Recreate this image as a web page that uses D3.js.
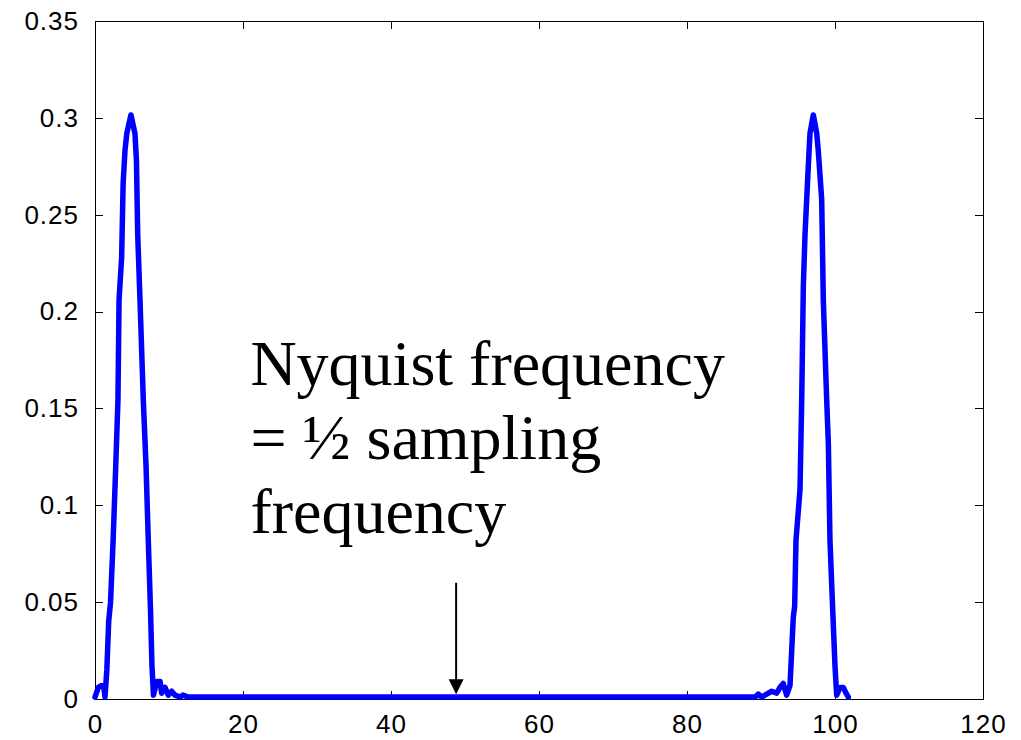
<!DOCTYPE html>
<html>
<head>
<meta charset="utf-8">
<script src="https://cdn.jsdelivr.net/npm/d3@7"></script>
<style>
  html, body { margin: 0; padding: 0; background: #fff; }
  svg { display: block; }
</style>
</head>
<body>
<svg id="chart" width="1021" height="740"></svg>
<script>
// ---- data ----
const freqX = [0, 0.45, 0.9, 1.2, 1.35, 1.6, 1.85, 2.1, 2.45, 2.8, 3.1, 3.25, 3.6, 3.8, 4.05, 4.3, 4.86,
  5.4, 5.6, 5.77, 6.08, 6.53, 6.9, 7.2, 7.5, 7.7, 7.9, 8.35, 8.8, 9.0, 9.46, 9.9, 10.36, 10.8, 11.5, 11.9, 12.6,
  89.19, 89.64, 90.09, 90.77, 91.45, 92.12, 92.57, 93.01, 93.47, 93.92, 94.15, 94.36, 94.55, 94.73, 95.27, 95.5,
  95.72, 95.95, 96.39, 96.62, 97.07, 97.53, 97.74, 98.2, 98.42, 98.88, 99.1, 99.32, 99.69, 100.0, 100.23,
  100.68, 101.12, 101.49, 101.8];
const magnitude = [0.001, 0.006, 0.007, 0.006, 0.001, 0.015, 0.04, 0.05, 0.082, 0.12, 0.154, 0.206, 0.228, 0.266, 0.283, 0.292, 0.3015,
  0.292, 0.278, 0.24, 0.206, 0.154, 0.12, 0.082, 0.046, 0.017, 0.002, 0.009, 0.009, 0.003, 0.006, 0.002, 0.004, 0.002, 0.001, 0.002, 0.001,
  0.001, 0.0025, 0.001, 0.0025, 0.004, 0.003, 0.006, 0.008, 0.002, 0.007, 0.025, 0.042, 0.048, 0.082, 0.108, 0.154,
  0.213, 0.24, 0.275, 0.292, 0.3015, 0.292, 0.283, 0.258, 0.206, 0.154, 0.132, 0.082, 0.046, 0.017, 0.002,
  0.006, 0.006, 0.003, 0.001];
const xTicks = [0, 20, 40, 60, 80, 100, 120];
const yTicks = [0, 0.05, 0.1, 0.15, 0.2, 0.25, 0.3, 0.35];
const yTickLabels = ["0", "0.05", "0.1", "0.15", "0.2", "0.25", "0.3", "0.35"];
const annotationLines = ["Nyquist frequency", "= \u00BD sampling", "frequency"];
const arrowX = 48.8, arrowFrom = 0.06, arrowTo = 0.0025;
const annotX = 21, annotY = 0.162;

// ---- layout ----
const svg = d3.select("#chart");
const mLeft = 95, mRight = 983, mTop = 21, mBottom = 699;
const x = d3.scaleLinear().domain([0, 120]).range([mLeft, mRight]);
const y = d3.scaleLinear().domain([0, 0.35]).range([mBottom, mTop]);
const tickLen = 8;
const tickFont = "'Liberation Sans', Arial, Helvetica, sans-serif";

// box
svg.append("rect").attr("x", mLeft).attr("y", mTop).attr("width", mRight - mLeft).attr("height", mBottom - mTop)
  .attr("fill", "none").attr("stroke", "#000").attr("stroke-width", 1).attr("shape-rendering", "crispEdges");

// axes (ticks inward)
const xAxisB = d3.axisBottom(x).tickValues(xTicks).tickSizeInner(-tickLen).tickSizeOuter(0).tickPadding(tickLen + 8).tickFormat(d3.format("d"));
const gx = svg.append("g").attr("transform", `translate(0,${mBottom})`).call(xAxisB);
gx.select(".domain").remove();
gx.selectAll("text").attr("font-family", tickFont).attr("font-size", 26).attr("fill", "#000").attr("letter-spacing", 1);

const xAxisT = d3.axisTop(x).tickValues(xTicks).tickSizeInner(-tickLen).tickSizeOuter(0).tickFormat("");
const gxt = svg.append("g").attr("transform", `translate(0,${mTop})`).call(xAxisT);
gxt.select(".domain").remove();

const yAxisL = d3.axisLeft(y).tickValues(yTicks).tickSizeInner(-tickLen).tickSizeOuter(0).tickPadding(tickLen + 8)
  .tickFormat((d, i) => yTickLabels[i]);
const gy = svg.append("g").attr("transform", `translate(${mLeft},0)`).call(yAxisL);
gy.select(".domain").remove();
gy.selectAll("text").attr("font-family", tickFont).attr("font-size", 26).attr("fill", "#000").attr("letter-spacing", 1);

const yAxisR = d3.axisRight(y).tickValues(yTicks).tickSizeInner(-tickLen).tickSizeOuter(0).tickFormat("");
const gyr = svg.append("g").attr("transform", `translate(${mRight},0)`).call(yAxisR);
gyr.select(".domain").remove();

svg.selectAll(".tick line").attr("stroke", "#000").attr("stroke-width", 1).attr("shape-rendering", "crispEdges");

// spectrum line
const pts = freqX.map((d, i) => [d, magnitude[i]]);
const line = d3.line().x(d => x(d[0])).y(d => y(d[1]));
svg.append("path").datum(pts).attr("d", line)
  .attr("fill", "none").attr("stroke", "#0000ff").attr("stroke-width", 5.5)
  .attr("stroke-linejoin", "round").attr("stroke-linecap", "round");

// arrow
const ax = x(arrowX), ay1 = y(arrowFrom), ay2 = y(arrowTo);
const headH = 15, headW = 15;
svg.append("line").attr("x1", ax).attr("x2", ax).attr("y1", ay1).attr("y2", ay2 - headH + 2)
  .attr("stroke", "#000").attr("stroke-width", 2);
svg.append("path").attr("d", `M${ax - headW / 2},${ay2 - headH} L${ax + headW / 2},${ay2 - headH} L${ax},${ay2} Z`)
  .attr("fill", "#000");

// annotation
const annot = svg.append("text").attr("x", x(annotX)).attr("y", y(annotY))
  .attr("font-family", "'Liberation Serif', 'Times New Roman', serif").attr("font-size", 64).attr("fill", "#000");
annotationLines.forEach((t, i) => {
  annot.append("tspan").attr("x", x(annotX)).attr("dy", i === 0 ? 0 : 74).text(t);
});
</script>
</body>
</html>
